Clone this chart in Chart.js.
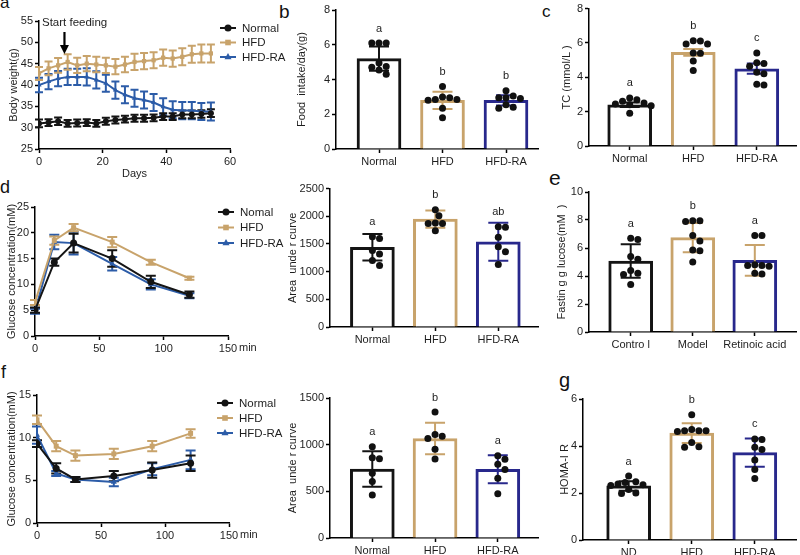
<!DOCTYPE html>
<html><head><meta charset="utf-8">
<script src="https://cdn.jsdelivr.net/npm/chart.js@4.4.1/dist/chart.umd.min.js"></script>
<style>
html,body{margin:0;padding:0;background:#fff;}
#wrap{position:relative;width:800px;height:555px;overflow:hidden;background:#fff;}
#wrap canvas{position:absolute;}
.plabel{position:absolute;font-family:"Liberation Sans",Arial,sans-serif;line-height:1;color:#111;white-space:nowrap;}
</style></head>
<body><div id="wrap"></div>
<script>
// ================= DATA =================
// (a) body weight
const seriesNamesA = ['Normal', 'HFD', 'HFD-RA'];
const daysA = [0, 3, 6, 9, 12, 15, 18, 21, 24, 27, 30, 33, 36, 39, 42, 45, 48, 51, 54];
const bwNormal = [31.0, 31.2, 31.5, 31.0, 31.1, 31.2, 31.0, 31.5, 31.8, 32.0, 32.2, 32.2, 32.3, 32.6, 32.6, 33.1, 33.1, 33.2, 33.4];
const bwNormalErr = [0.9, 0.8, 0.9, 0.8, 0.8, 0.8, 0.8, 0.8, 0.8, 0.8, 0.8, 0.8, 0.8, 0.8, 0.8, 0.9, 0.9, 0.9, 0.9];
const bwHFD = [42.7, 43.9, 44.6, 45.4, 44.6, 45.0, 44.8, 44.6, 44.3, 44.8, 45.4, 45.6, 45.8, 46.4, 46.2, 46.6, 47.2, 47.4, 47.4];
const bwHFDErr = [1.5, 1.6, 1.7, 1.8, 1.8, 1.8, 1.8, 1.8, 1.8, 1.8, 1.9, 1.9, 1.9, 1.9, 1.9, 2.0, 2.0, 2.1, 2.1];
const bwRA = [40.0, 40.8, 41.5, 41.9, 41.9, 41.9, 41.2, 40.4, 38.8, 37.7, 36.9, 36.5, 35.9, 34.9, 34.2, 34.0, 34.0, 33.8, 33.8];
const bwRAErr = [1.7, 1.8, 1.8, 1.9, 1.9, 2.0, 2.0, 2.0, 2.0, 2.0, 2.0, 2.0, 2.0, 2.0, 2.0, 2.0, 2.0, 2.0, 2.1];
const startFeedingDay = 8;
const startFeedingText = 'Start feeding';

// (b) food intake
const groupsB = ['Normal', 'HFD', 'HFD-RA'];
const foodMean = [5.2, 2.8, 2.8];
const foodSD = [0.7, 0.5, 0.3];
const foodNormal = [6.1, 6.1, 6.1, 4.95, 4.75, 4.7, 4.55, 4.3];
const foodHFD = [3.6, 3.0, 2.95, 2.85, 2.85, 2.8, 2.35, 1.8];
const foodRA = [3.35, 3.05, 2.95, 2.95, 2.9, 2.55, 2.4, 2.35];
const lettersB = ['a', 'b', 'b'];

// (c) TC
const groupsC = ['Normal', 'HFD', 'HFD-RA'];
const tcMean = [2.4, 5.45, 4.5];
const tcSEM = [0.13, 0.2, 0.3];
const tcNormal = [2.8, 2.7, 2.6, 2.5, 2.45, 2.4, 2.35, 1.9];
const tcHFD = [6.13, 6.12, 5.94, 5.94, 5.42, 5.4, 4.95, 4.4];
const tcRA = [5.42, 4.85, 4.8, 4.65, 4.3, 4.2, 3.6, 3.55];
const lettersC = ['a', 'b', 'c'];

// (d) OGTT
const seriesNamesD = ['Nomal', 'HFD', 'HFD-RA'];
const minutesD = [0, 15, 30, 60, 90, 120];
const ogttNormal = [5.0, 14.3, 18.0, 15.0, 10.5, 8.0];
const ogttNormalErr = [0.5, 0.7, 1.8, 1.6, 1.2, 0.6];
const ogttHFD = [6.5, 18.5, 21.0, 18.2, 14.3, 11.2];
const ogttHFDErr = [0.5, 0.8, 0.7, 1.0, 0.5, 0.3];
const ogttRA = [4.8, 18.2, 18.0, 14.0, 10.0, 7.8];
const ogttRAErr = [0.5, 1.4, 2.2, 1.3, 1.0, 0.5];
const groupsD = ['Normal', 'HFD', 'HFD-RA'];
const aucOgttMean = [1440, 1950, 1540];
const aucOgttSD = [240, 155, 345];
const aucOgttNormal = [1630, 1600, 1380, 1320, 1200, 1110];
const aucOgttHFD = [2120, 2010, 1880, 1870, 1870, 1740];
const aucOgttRA = [1810, 1800, 1620, 1450, 1360, 1130];
const lettersD = ['a', 'b', 'ab'];

// (e) fasting glucose
const groupsE = ['Contro l', 'Model', 'Retinoic acid'];
const fbgMean = [5.07, 6.74, 5.12];
const fbgSD = [1.2, 1.05, 1.1];
const fbgControl = [6.7, 6.6, 5.4, 5.2, 4.4, 4.2, 4.1, 3.4];
const fbgModel = [7.95, 7.9, 7.95, 6.9, 6.5, 5.85, 5.8, 5.0];
const fbgRA = [6.9, 6.9, 4.8, 4.75, 4.75, 4.7, 4.2, 4.15];
const lettersE = ['a', 'b', 'a'];

// (f) ITT
const seriesNamesF = ['Normal', 'HFD', 'HFD-RA'];
const minutesF = [0, 15, 30, 60, 90, 120];
const ittNormal = [9.3, 6.4, 5.1, 5.5, 6.2, 7.0];
const ittNormalErr = [0.4, 0.6, 0.3, 0.6, 0.9, 0.9];
const ittHFD = [12.1, 9.0, 7.9, 8.1, 9.0, 10.5];
const ittHFDErr = [0.5, 0.6, 0.6, 0.6, 0.6, 0.5];
const ittRA = [10.3, 5.8, 5.1, 4.8, 6.3, 7.4];
const ittRAErr = [1.0, 0.3, 0.3, 0.5, 0.7, 1.1];
const groupsF = ['Normal', 'HFD', 'HFD-RA'];
const aucIttMean = [739, 1066, 736];
const aucIttSD = [190, 170, 150];
const aucIttNormal = [978, 860, 850, 695, 605, 462];
const aucIttHFD = [1350, 1110, 1090, 1066, 950, 846];
const aucIttRA = [880, 843, 790, 735, 640, 473];
const lettersF = ['a', 'b', 'a'];

// (g) HOMA-IR
const groupsG = ['ND', 'HFD', 'HFD-RA'];
const homaMean = [2.3, 4.55, 3.72];
const homaSD = [0.2, 0.42, 0.6];
const homaND = [2.72, 2.48, 2.45, 2.38, 2.35, 2.32, 2.15, 2.0, 1.98];
const homaHFD = [5.33, 4.7, 4.65, 4.65, 4.65, 4.62, 4.15, 3.97, 3.95];
const homaRA = [4.3, 4.28, 3.95, 3.85, 3.4, 3.0, 2.62];
const lettersG = ['a', 'b', 'c'];

const panelLetters = ['a', 'b', 'c', 'd', 'e', 'f', 'g'];

// ================= STYLE / LAYOUT =================
const FONT = '"Liberation Sans", Arial, Helvetica, sans-serif';
const TICK_SIZE = 11, TITLE_SIZE = 11, LEGEND_SIZE = 11.5, LETTER_SIZE = 11;
const BLACK = '#141414', TAN = '#C8A36B', NAVY = '#28288C', BLUE = '#2C5CA8';
const TXT = '#1e1e1e';
const wrap = document.getElementById('wrap');

const panelLetterPos = [
  {x: 0, base: 8, size: 17}, {x: 279, base: 18, size: 19}, {x: 542, base: 17, size: 17},
  {x: 0, base: 193, size: 18}, {x: 549, base: 185, size: 21}, {x: 1, base: 378, size: 18},
  {x: 559, base: 387, size: 20}
];
panelLetters.forEach((t, i) => {
  const p = panelLetterPos[i];
  const d = document.createElement('div');
  d.className = 'plabel';
  d.textContent = t;
  d.style.fontSize = p.size + 'px';
  d.style.left = p.x + 'px';
  d.style.top = (p.base - 0.8465 * p.size) + 'px';
  wrap.appendChild(d);
});

function place(box) {
  const c = document.createElement('canvas');
  c.width = box.w; c.height = box.h;
  c.style.left = box.l + 'px'; c.style.top = box.t + 'px';
  c.style.width = box.w + 'px'; c.style.height = box.h + 'px';
  wrap.appendChild(c);
  return c;
}

function geom(box, area, yTitleX, xTitleY) {
  const lh = TITLE_SIZE * 1.2;
  const padL = yTitleX - box.l - lh / 2;
  const Wy = area.x0 - box.l - padL;
  const padT = area.y0 - box.t;
  const padR = box.l + box.w - area.x1;
  let Hx, padB;
  if (xTitleY != null) { Hx = xTitleY + lh / 2 - area.y1; padB = box.t + box.h - area.y1 - Hx; }
  else { Hx = box.t + box.h - area.y1; padB = 0; }
  return {padding: {left: padL, top: padT, right: padR, bottom: padB}, Wy, Hx};
}

function axisStyle() {
  return {
    grid: {display: true, drawOnChartArea: false, drawTicks: true, tickLength: 4, tickWidth: 1.5, tickColor: '#000', offset: false},
    border: {display: true, color: '#000', width: 1.5}
  };
}

function yAxisCfg(o, g) {
  return Object.assign(axisStyle(), {
    type: 'linear', min: o.yMin, max: o.yMax, z: 1,
    afterFit: s => { s.width = g.Wy; },
    ticks: {stepSize: o.yStep, color: TXT, font: {family: FONT, size: TICK_SIZE}, padding: 2, callback: v => String(v)},
    title: {display: true, text: o.yTitle, color: TXT, font: {family: FONT, size: TITLE_SIZE}, padding: 0}
  });
}

function drawMarker(ctx, style, x, y, r) {
  ctx.beginPath();
  if (style === 'circle') ctx.arc(x, y, r, 0, Math.PI * 2);
  else if (style === 'rect') { const s = r * 0.8; ctx.rect(x - s, y - s, 2 * s, 2 * s); }
  else { ctx.moveTo(x, y - r * 1.15); ctx.lineTo(x + r, y + r * 0.65); ctx.lineTo(x - r, y + r * 0.65); ctx.closePath(); }
  ctx.fill();
}

// ---------- line chart ----------
function lineChart(o) {
  const canvas = place(o.box);
  const g = geom(o.box, o.area, o.yTitleX, o.xTitleY);
  const datasets = o.series.map(s => ({
    label: s.label,
    data: o.xs.map((x, i) => ({x: x, y: s.values[i]})),
    errors: s.errors, marker: s.marker,
    borderColor: s.color, backgroundColor: s.color,
    pointStyle: s.marker, pointRadius: o.pointRadius, pointHoverRadius: o.pointRadius,
    pointBorderWidth: 0, borderWidth: 2, tension: 0, fill: false
  }));
  const plugin = {
    id: 'lineExtras',
    beforeDatasetsDraw(chart) {
      const ctx = chart.ctx, xs = chart.scales.x, ys = chart.scales.y, cw = o.capW / 2;
      chart.data.datasets.slice().reverse().forEach(ds => {
        ctx.save(); ctx.strokeStyle = ds.borderColor; ctx.lineWidth = 2;
        ds.data.forEach((p, i) => {
          const e = ds.errors[i];
          const x = xs.getPixelForValue(p.x);
          const y1 = ys.getPixelForValue(p.y + e), y2 = ys.getPixelForValue(p.y - e);
          ctx.beginPath();
          ctx.moveTo(x, y1); ctx.lineTo(x, y2);
          ctx.moveTo(x - cw, y1); ctx.lineTo(x + cw, y1);
          ctx.moveTo(x - cw, y2); ctx.lineTo(x + cw, y2);
          ctx.stroke();
        });
        ctx.restore();
      });
    },
    afterDraw(chart) {
      const ctx = chart.ctx;
      ctx.save();
      const L = o.legend;
      chart.data.datasets.forEach((ds, i) => {
        const x = L.x - o.box.l, y = L.y - o.box.t + i * L.dy;
        ctx.strokeStyle = ds.borderColor; ctx.fillStyle = ds.borderColor; ctx.lineWidth = 2;
        ctx.beginPath(); ctx.moveTo(x, y); ctx.lineTo(x + 16, y); ctx.stroke();
        drawMarker(ctx, ds.marker, x + 8, y, 3.5);
        ctx.fillStyle = TXT; ctx.font = LEGEND_SIZE + 'px ' + FONT;
        ctx.textAlign = 'left'; ctx.textBaseline = 'middle';
        ctx.fillText(ds.label, x + 22, y + 0.5);
      });
      if (o.unit) {
        ctx.fillStyle = TXT; ctx.font = TICK_SIZE + 'px ' + FONT;
        ctx.textAlign = 'left'; ctx.textBaseline = 'top';
        ctx.fillText(o.unit, chart.chartArea.right + 11, chart.chartArea.bottom + 6);
      }
      if (o.annotation) {
        const a = o.annotation;
        const ax = chart.scales.x.getPixelForValue(a.x);
        const top = chart.chartArea.top;
        ctx.fillStyle = TXT; ctx.font = LEGEND_SIZE + 'px ' + FONT;
        ctx.textAlign = 'left'; ctx.textBaseline = 'middle';
        ctx.fillText(a.text, a.textX - o.box.l, top + 2);
        ctx.strokeStyle = '#000'; ctx.fillStyle = '#000'; ctx.lineWidth = 2.2;
        ctx.beginPath(); ctx.moveTo(ax, top + 11); ctx.lineTo(ax, top + 26); ctx.stroke();
        ctx.beginPath(); ctx.moveTo(ax - 4.5, top + 24); ctx.lineTo(ax + 4.5, top + 24); ctx.lineTo(ax, top + 33); ctx.closePath(); ctx.fill();
      }
      ctx.restore();
    }
  };
  const xAxis = Object.assign(axisStyle(), {
    type: 'linear', min: o.xMin, max: o.xMax, z: 1,
    afterFit: s => { s.height = g.Hx; },
    ticks: {stepSize: o.xStep, color: TXT, font: {family: FONT, size: TICK_SIZE}, padding: 2, maxRotation: 0, callback: v => String(v)},
    title: {display: !!o.xTitle, text: o.xTitle || '', color: TXT, font: {family: FONT, size: TITLE_SIZE}, padding: 0}
  });
  new Chart(canvas, {
    type: 'line',
    data: {datasets},
    options: {
      responsive: false, animation: false, events: [],
      layout: {padding: g.padding},
      plugins: {legend: {display: false}, tooltip: {enabled: false}},
      scales: {x: xAxis, y: yAxisCfg(o, g)}
    },
    plugins: [plugin]
  });
}

// ---------- bar + dots chart ----------
function swarm(vals, center, ux, uy) {
  const d = 7.2, placed = [], res = [];
  const idx = vals.map((v, i) => i).sort((a, b) => vals[b] - vals[a]);
  for (const i of idx) {
    const yp = vals[i] * uy;
    let off = 0;
    for (let k = 0; k < 20; k++) {
      const cand = k === 0 ? 0 : (k % 2 ? 1 : -1) * Math.ceil(k / 2) * d / 2;
      if (placed.every(p => Math.hypot(p.x - cand, p.y - yp) >= d - 0.4)) { off = cand; break; }
    }
    placed.push({x: off, y: yp});
    res.push({x: center + off / ux, y: vals[i]});
  }
  return res;
}

function barChart(o) {
  const canvas = place(o.box);
  const g = geom(o.box, o.area, o.yTitleX, null);
  const xmin = 1 - (o.c1 - o.area.x0) / o.sp, xmax = 1 + (o.area.x1 - o.c1) / o.sp;
  const uy = (o.area.y1 - o.area.y0) / (o.yMax - o.yMin);
  const dots = [];
  o.dots.forEach((vals, gi) => swarm(vals, gi + 1, o.sp, uy).forEach(p => dots.push(p)));
  const plugin = {
    id: 'barExtras',
    afterDatasetDraw(chart, args) {
      if (args.index !== 0) return;
      const ctx = chart.ctx, xs = chart.scales.x, ys = chart.scales.y;
      o.means.forEach((m, i) => {
        const x = xs.getPixelForValue(i + 1);
        const yt = ys.getPixelForValue(m + o.errs[i]), yb = ys.getPixelForValue(m - o.errs[i]);
        ctx.save(); ctx.strokeStyle = o.whisker[i]; ctx.lineWidth = 2;
        ctx.beginPath();
        ctx.moveTo(x, yt); ctx.lineTo(x, yb);
        ctx.moveTo(x - 10, yt); ctx.lineTo(x + 10, yt);
        ctx.moveTo(x - 10, yb); ctx.lineTo(x + 10, yb);
        ctx.stroke(); ctx.restore();
      });
    },
    afterDraw(chart) {
      const ctx = chart.ctx, xs = chart.scales.x, ys = chart.scales.y;
      ctx.save();
      ctx.fillStyle = TXT; ctx.font = LETTER_SIZE + 'px ' + FONT;
      ctx.textAlign = 'center'; ctx.textBaseline = 'middle';
      o.letters.forEach((t, i) => {
        const x = xs.getPixelForValue(i + 1);
        const top = Math.min(ys.getPixelForValue(Math.max(...o.dots[i])) - 3.5, ys.getPixelForValue(o.means[i] + o.errs[i]));
        ctx.fillText(t, x, top - 11);
      });
      ctx.restore();
    }
  };
  const xAxis = Object.assign(axisStyle(), {
    type: 'linear', min: xmin, max: xmax, offset: false, z: 1,
    afterFit: s => { s.height = g.Hx; },
    afterBuildTicks: s => { s.ticks = o.labels.map((_, i) => ({value: i + 1})); },
    ticks: {autoSkip: false, maxRotation: 0, color: TXT, font: {family: FONT, size: TICK_SIZE}, padding: 2,
      callback: v => o.labels[Math.round(v) - 1]}
  });
  new Chart(canvas, {
    type: 'bar',
    data: {datasets: [
      {type: 'bar', data: o.means.map((m, i) => ({x: i + 1, y: m})), backgroundColor: '#ffffff',
       borderColor: o.colors, borderWidth: 3, barThickness: 44, order: 2},
      {type: 'scatter', data: dots, backgroundColor: '#111', borderColor: '#111', pointRadius: 3.5,
       pointHoverRadius: 3.5, borderWidth: 0, order: 1}
    ]},
    options: {
      responsive: false, animation: false, events: [],
      layout: {padding: g.padding},
      plugins: {legend: {display: false}, tooltip: {enabled: false}},
      scales: {x: xAxis, y: yAxisCfg(o, g)}
    },
    plugins: [plugin]
  });
}

// ================= PANELS =================
lineChart({
  box: {l: 0, t: 0, w: 290, h: 185}, area: {x0: 39, y0: 21, x1: 230, y1: 149},
  yTitleX: 14, xTitleY: 174, xTitle: 'Days', yTitle: 'Body weight(g)',
  xMin: 0, xMax: 60, xStep: 20, yMin: 25, yMax: 55, yStep: 5,
  xs: daysA, capW: 8, pointRadius: 3,
  series: [
    {label: seriesNamesA[0], values: bwNormal, errors: bwNormalErr, color: BLACK, marker: 'circle'},
    {label: seriesNamesA[1], values: bwHFD, errors: bwHFDErr, color: TAN, marker: 'rect'},
    {label: seriesNamesA[2], values: bwRA, errors: bwRAErr, color: BLUE, marker: 'triangle'}
  ],
  legend: {x: 220, y: 28, dy: 14.5},
  annotation: {x: startFeedingDay, text: startFeedingText, textX: 42}
});

barChart({
  box: {l: 270, t: 0, w: 272, h: 185}, area: {x0: 336, y0: 10, x1: 538, y1: 149},
  yTitleX: 302, yTitle: 'Food  intake/day(g)', yMin: 0, yMax: 8, yStep: 2,
  c1: 379, sp: 63.5, labels: groupsB, means: foodMean, errs: foodSD,
  dots: [foodNormal, foodHFD, foodRA], colors: [BLACK, TAN, NAVY], whisker: [BLACK, TAN, NAVY], letters: lettersB
});

barChart({
  box: {l: 540, t: 0, w: 260, h: 185}, area: {x0: 589, y0: 7, x1: 798, y1: 146},
  yTitleX: 567, yTitle: 'TC (mmol/L )', yMin: 0, yMax: 8, yStep: 2,
  c1: 630, sp: 64, labels: groupsC, means: tcMean, errs: tcSEM,
  dots: [tcNormal, tcHFD, tcRA], colors: [BLACK, TAN, NAVY], whisker: [BLACK, TAN, NAVY], letters: lettersC
});

lineChart({
  box: {l: 0, t: 180, w: 290, h: 190}, area: {x0: 35, y0: 207, x1: 228, y1: 336},
  yTitleX: 12, xTitleY: null, yTitle: 'Glucose concentration(mM)',
  xMin: 0, xMax: 150, xStep: 50, yMin: 0, yMax: 25, yStep: 5,
  xs: minutesD, capW: 10, pointRadius: 3.5, unit: 'min',
  series: [
    {label: seriesNamesD[0], values: ogttNormal, errors: ogttNormalErr, color: BLACK, marker: 'circle'},
    {label: seriesNamesD[1], values: ogttHFD, errors: ogttHFDErr, color: TAN, marker: 'rect'},
    {label: seriesNamesD[2], values: ogttRA, errors: ogttRAErr, color: BLUE, marker: 'triangle'}
  ],
  legend: {x: 218, y: 212, dy: 15.5}
});

barChart({
  box: {l: 280, t: 180, w: 262, h: 190}, area: {x0: 330, y0: 187, x1: 540, y1: 327},
  yTitleX: 293, yTitle: 'Area  unde r curve', yMin: 0, yMax: 2500, yStep: 500,
  c1: 372.7, sp: 63.4, labels: groupsD, means: aucOgttMean, errs: aucOgttSD,
  dots: [aucOgttNormal, aucOgttHFD, aucOgttRA], colors: [BLACK, TAN, NAVY], whisker: [BLACK, TAN, NAVY], letters: lettersD
});

barChart({
  box: {l: 540, t: 180, w: 260, h: 190}, area: {x0: 589, y0: 192, x1: 798, y1: 332},
  yTitleX: 562, yTitle: 'Fastin g g lucose(mM  )', yMin: 0, yMax: 10, yStep: 2,
  c1: 631, sp: 62.5, labels: groupsE, means: fbgMean, errs: fbgSD,
  dots: [fbgControl, fbgModel, fbgRA], colors: [BLACK, TAN, NAVY], whisker: [BLACK, TAN, TAN], letters: lettersE
});

lineChart({
  box: {l: 0, t: 370, w: 290, h: 185}, area: {x0: 37, y0: 395, x1: 229, y1: 523},
  yTitleX: 12, xTitleY: null, yTitle: 'Glucose concentration(mM)',
  xMin: 0, xMax: 150, xStep: 50, yMin: 0, yMax: 15, yStep: 5,
  xs: minutesF, capW: 10, pointRadius: 3.5, unit: 'min',
  series: [
    {label: seriesNamesF[0], values: ittNormal, errors: ittNormalErr, color: BLACK, marker: 'circle'},
    {label: seriesNamesF[1], values: ittHFD, errors: ittHFDErr, color: TAN, marker: 'rect'},
    {label: seriesNamesF[2], values: ittRA, errors: ittRAErr, color: BLUE, marker: 'triangle'}
  ],
  legend: {x: 217, y: 403, dy: 15}
});

barChart({
  box: {l: 280, t: 370, w: 262, h: 185}, area: {x0: 330, y0: 398, x1: 540, y1: 538},
  yTitleX: 293, yTitle: 'Area  unde r curve', yMin: 0, yMax: 1500, yStep: 500,
  c1: 372.6, sp: 63.2, labels: groupsF, means: aucIttMean, errs: aucIttSD,
  dots: [aucIttNormal, aucIttHFD, aucIttRA], colors: [BLACK, TAN, NAVY], whisker: [BLACK, TAN, NAVY], letters: lettersF
});

barChart({
  box: {l: 540, t: 370, w: 260, h: 185}, area: {x0: 583, y0: 399, x1: 798, y1: 540},
  yTitleX: 565, yTitle: 'HOMA-I R', yMin: 0, yMax: 6, yStep: 2,
  c1: 629, sp: 63.5, labels: groupsG, means: homaMean, errs: homaSD,
  dots: [homaND, homaHFD, homaRA], colors: [BLACK, TAN, NAVY], whisker: [BLACK, TAN, NAVY], letters: lettersG
});
</script></body></html>
